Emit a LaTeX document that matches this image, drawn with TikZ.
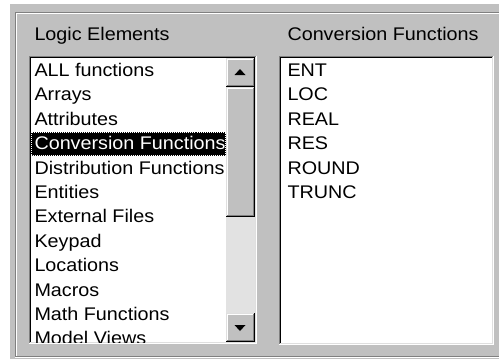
\documentclass[tikz,border=0pt]{standalone}
\usepackage{fontspec}
\setmainfont{Liberation Sans}[FakeStretch=1.08]
\definecolor{face}{HTML}{C0C0C0}
\definecolor{shadow}{HTML}{808080}
\definecolor{hilite}{HTML}{DFDFDF}
\definecolor{trackfill}{HTML}{E2E2E2}

% sunken list box: outer pixel bounds x1 y1 x2 y2
\newcommand\sunkenbox[4]{%
  \fill[white] (#1+2,#2+2) rectangle (#3-2,#4-2);
  \draw[shadow] (#1+.5,#4-1) |- (#3-1,#2+.5);
  \draw[black]  (#1+1.5,#4-2) |- (#3-2,#2+1.5);
  \draw[white]  (#1,#4-.5) -| (#3-.5,#2);
  \draw[hilite] (#1+1,#4-1.5) -| (#3-1.5,#2+1);
}
% raised scroll-bar part
\newcommand\raisedbox[4]{%
  \fill[face] (#1,#2) rectangle (#3,#4);
  \draw[hilite] (#1+.5,#4-1) |- (#3-1,#2+.5);
  \draw[white]  (#1+1.5,#4-2) |- (#3-2,#2+1.5);
  \draw[black]  (#1,#4-.5) -| (#3-.5,#2);
  \draw[shadow] (#1+1,#4-1.5) -| (#3-1.5,#2+1);
}

\begin{document}
\begin{tikzpicture}[x=1pt,y=-1pt,line width=1pt,
  txt/.style={anchor=base west,inner sep=0pt,font=\fontsize{18.3}{20}\selectfont,text=black},
  seltxt/.style={txt,text=white}]
\useasboundingbox (0,0) rectangle (499,362);
\fill[white] (0,0) rectangle (499,362);
\fill[face] (10,4) rectangle (499,359);

% etched group frame
\draw[shadow] (15.5,356.5) |- (500,12.5);
\draw[shadow] (15.5,356.5) -- (500,356.5);
\draw[white] (16.5,355.5) |- (500,13.5);
\draw[white] (15,357.5) -- (500,357.5);

% column headings
\node[txt] (h1) at (34,40) {Logic Elements};
\node[txt] (h2) at (287,40) {Conversion Functions};

% left list box
\sunkenbox{29}{56}{257}{344}
\begin{scope}
  \clip (31,58) rectangle (226,342);
  \fill[black] (31,131.5) rectangle (226,155.5);
  \draw[white,dash pattern=on 1pt off 1pt] (31.5,132) rectangle (225.5,155);
  \node[txt]    (l0)  at (34, 76.4) {ALL functions};
  \node[txt]    (l1)  at (34,100.8) {Arrays};
  \node[txt]    (l2)  at (34,125.2) {Attributes};
  \node[seltxt] (l3)  at (34,149.6) {Conversion Functions};
  \node[txt]    (l4)  at (34,174.0) {Distribution Functions};
  \node[txt]    (l5)  at (34,198.4) {Entities};
  \node[txt]    (l6)  at (34,222.8) {External Files};
  \node[txt]    (l7)  at (34,247.2) {Keypad};
  \node[txt]    (l8)  at (34,271.6) {Locations};
  \node[txt]    (l9)  at (34,296.0) {Macros};
  \node[txt]    (l10) at (34,320.4) {Math Functions};
  \node[txt]    (l11) at (34,344.8) {Model Views};
\end{scope}

% vertical scroll bar
\fill[trackfill] (226,87) rectangle (255,313);
\raisedbox{226}{58}{255}{87}
\raisedbox{226}{87}{255}{217}
\raisedbox{226}{313}{255}{342}
\fill[black] (234.5,75) -- (245.5,75) -- (240,69) -- cycle;
\fill[black] (234.5,325) -- (245.5,325) -- (240,331) -- cycle;

% right list box
\sunkenbox{279}{56}{494}{345}
\node[txt] (r0) at (287, 76.4) {ENT};
\node[txt] (r1) at (287,100.8) {LOC};
\node[txt] (r2) at (287,125.2) {REAL};
\node[txt] (r3) at (287,149.6) {RES};
\node[txt] (r4) at (287,174.0) {ROUND};
\node[txt] (r5) at (287,198.4) {TRUNC};
\end{tikzpicture}
\end{document}
